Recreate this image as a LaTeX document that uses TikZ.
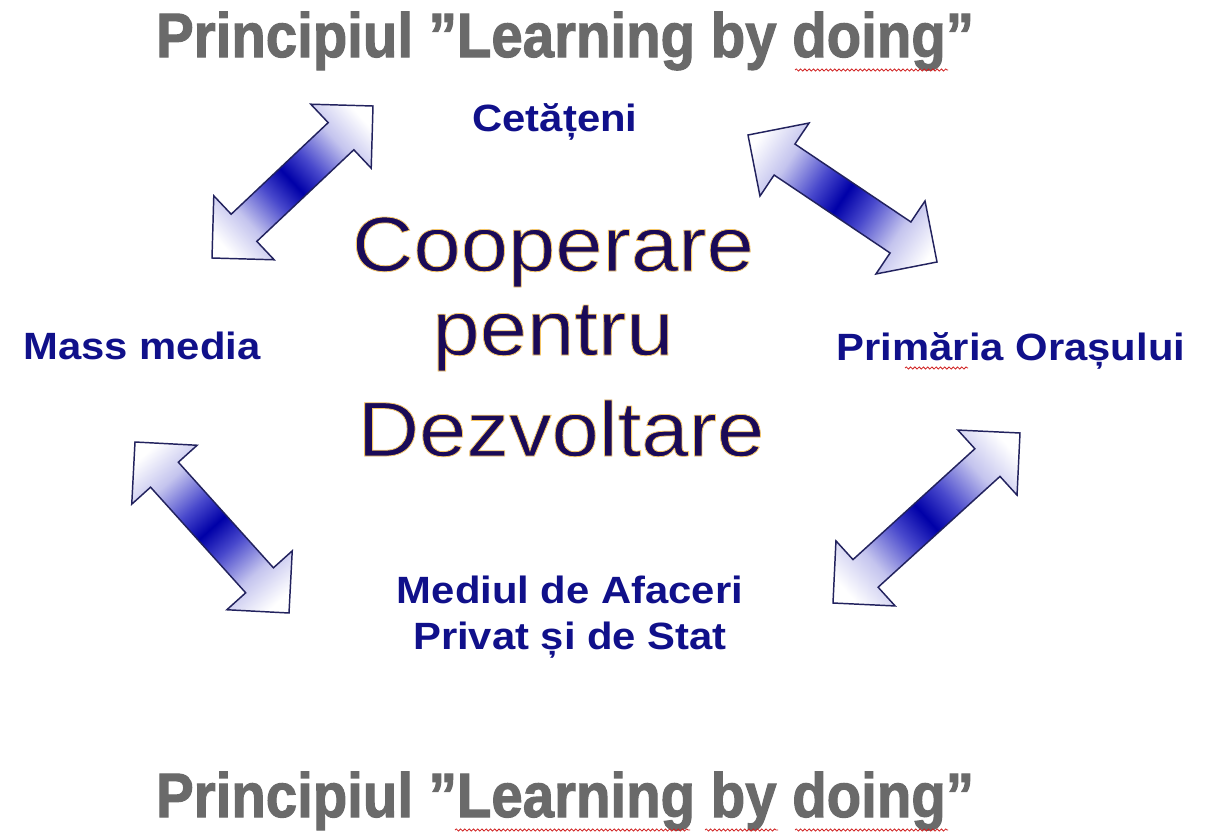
\documentclass[tikz,border=0pt]{standalone}
\usepackage{fontspec}
\setmainfont{Liberation Sans}
\newfontfamily\glowfont[FakeBold=1.0]{Liberation Sans}
\newfontfamily\titlefont[FakeBold=1.8]{Liberation Sans Bold}
\usetikzlibrary{calc,decorations.pathmorphing}
\definecolor{titlegray}{HTML}{6A6A6A}
\definecolor{labelblue}{HTML}{10108A}
\definecolor{centernavy}{HTML}{1A0A58}
\definecolor{arrowedge}{HTML}{22225E}
\definecolor{arrowblue}{HTML}{0000A8}
\definecolor{arrowmid}{HTML}{4848CC}
\definecolor{arrowlight}{HTML}{C4C4EE}
\definecolor{squigred}{HTML}{D02020}
\pgfdeclarehorizontalshading{dblshade}{100bp}{color(0bp)=(white); color(20bp)=(white); color(31bp)=(arrowlight); color(42bp)=(arrowmid); color(50bp)=(arrowblue); color(58bp)=(arrowmid); color(69bp)=(arrowlight); color(80bp)=(white); color(100bp)=(white)}
\def\ahl{33pt}
\def\ahw{33pt}
\def\asw{14pt}
\newcommand{\dblarrow}[3]{%
\shade[arrowbody, shading angle=#3]
 (#1) -- ($(#1)!\ahl!(#2)!\ahw!90:(#2)$) -- ($(#1)!\ahl!(#2)!\asw!90:(#2)$)
 -- ($(#2)!\ahl!(#1)!\asw!-90:(#1)$) -- ($(#2)!\ahl!(#1)!\ahw!-90:(#1)$)
 -- (#2) -- ($(#2)!\ahl!(#1)!\ahw!90:(#1)$) -- ($(#2)!\ahl!(#1)!\asw!90:(#1)$)
 -- ($(#1)!\ahl!(#2)!\asw!-90:(#2)$) -- ($(#1)!\ahl!(#2)!\ahw!-90:(#2)$) -- cycle;}
\newcommand{\glowtext}[1]{{\glowfont\special{pdf:literal direct 0.97 0.78 0.40 RG}#1}}
\begin{document}
\begin{tikzpicture}[x=0.75pt,y=-0.75pt,
  titletext/.style={text=titlegray, font=\fontsize{47}{50}\titlefont, inner sep=0pt, anchor=base, xscale=0.9},
  lbltext/.style={text=labelblue, font=\fontsize{28.5}{34.5}\selectfont\bfseries, inner sep=0pt, xscale=1.1},
  centertext/.style={text=centernavy, font=\fontsize{58}{60}\selectfont, inner sep=0pt, anchor=base, xscale=1.1},
  arrowbody/.style={shading=dblshade, draw=arrowedge, line width=1.1pt, line join=miter},
  squig/.style={draw=squigred, line width=0.6pt, decorate, decoration={snake, amplitude=0.8pt, segment length=3.2pt}}]
\useasboundingbox (0,0) rectangle (1215,839);
\fill[white] (0,0) rectangle (1215,839);

% titles
\node[titletext] (titletop) at (565,57) {Principiul ”Learning by doing”};
\node[titletext] (titlebot) at (565,817) {Principiul ”Learning by doing”};

% centre
\node[centertext] (coop) at (553,271) {\glowtext{Cooperare}};
\node[centertext] (pentru) at (553,355) {\glowtext{pentru}};
\node[centertext] (dezv) at (561,456) {\glowtext{Dezvoltare}};

% labels
\node[lbltext, anchor=base] (cet) at (555,131) {Cetățeni};
\node[lbltext, anchor=base] (mass) at (142,359) {Mass media};
\node[lbltext, anchor=base] (prim) at (1011,360) {Primăria Orașului};
\node[lbltext, anchor=north, align=center] (mediu) at (570,576) {Mediul de Afaceri\\Privat și de Stat};

% arrows
\coordinate (a1s) at (212,258); \coordinate (a1e) at (373,106);
\coordinate (a2s) at (748,135); \coordinate (a2e) at (937,262);
\coordinate (a3s) at (135,442); \coordinate (a3e) at (289,613);
\coordinate (a4s) at (833,603); \coordinate (a4e) at (1020,433);
\dblarrow{a1s}{a1e}{43}
\dblarrow{a2s}{a2e}{-34}
\dblarrow{a3s}{a3e}{-48}
\dblarrow{a4s}{a4e}{42}

% spell-check marks
\draw[squig] (795,70) -- (948,70);
\draw[squig] (905,368) -- (968,368);
\draw[squig] (455,830) -- (690,830);
\draw[squig] (705,830) -- (778,830);
\draw[squig] (795,830) -- (948,830);
\end{tikzpicture}
\end{document}
